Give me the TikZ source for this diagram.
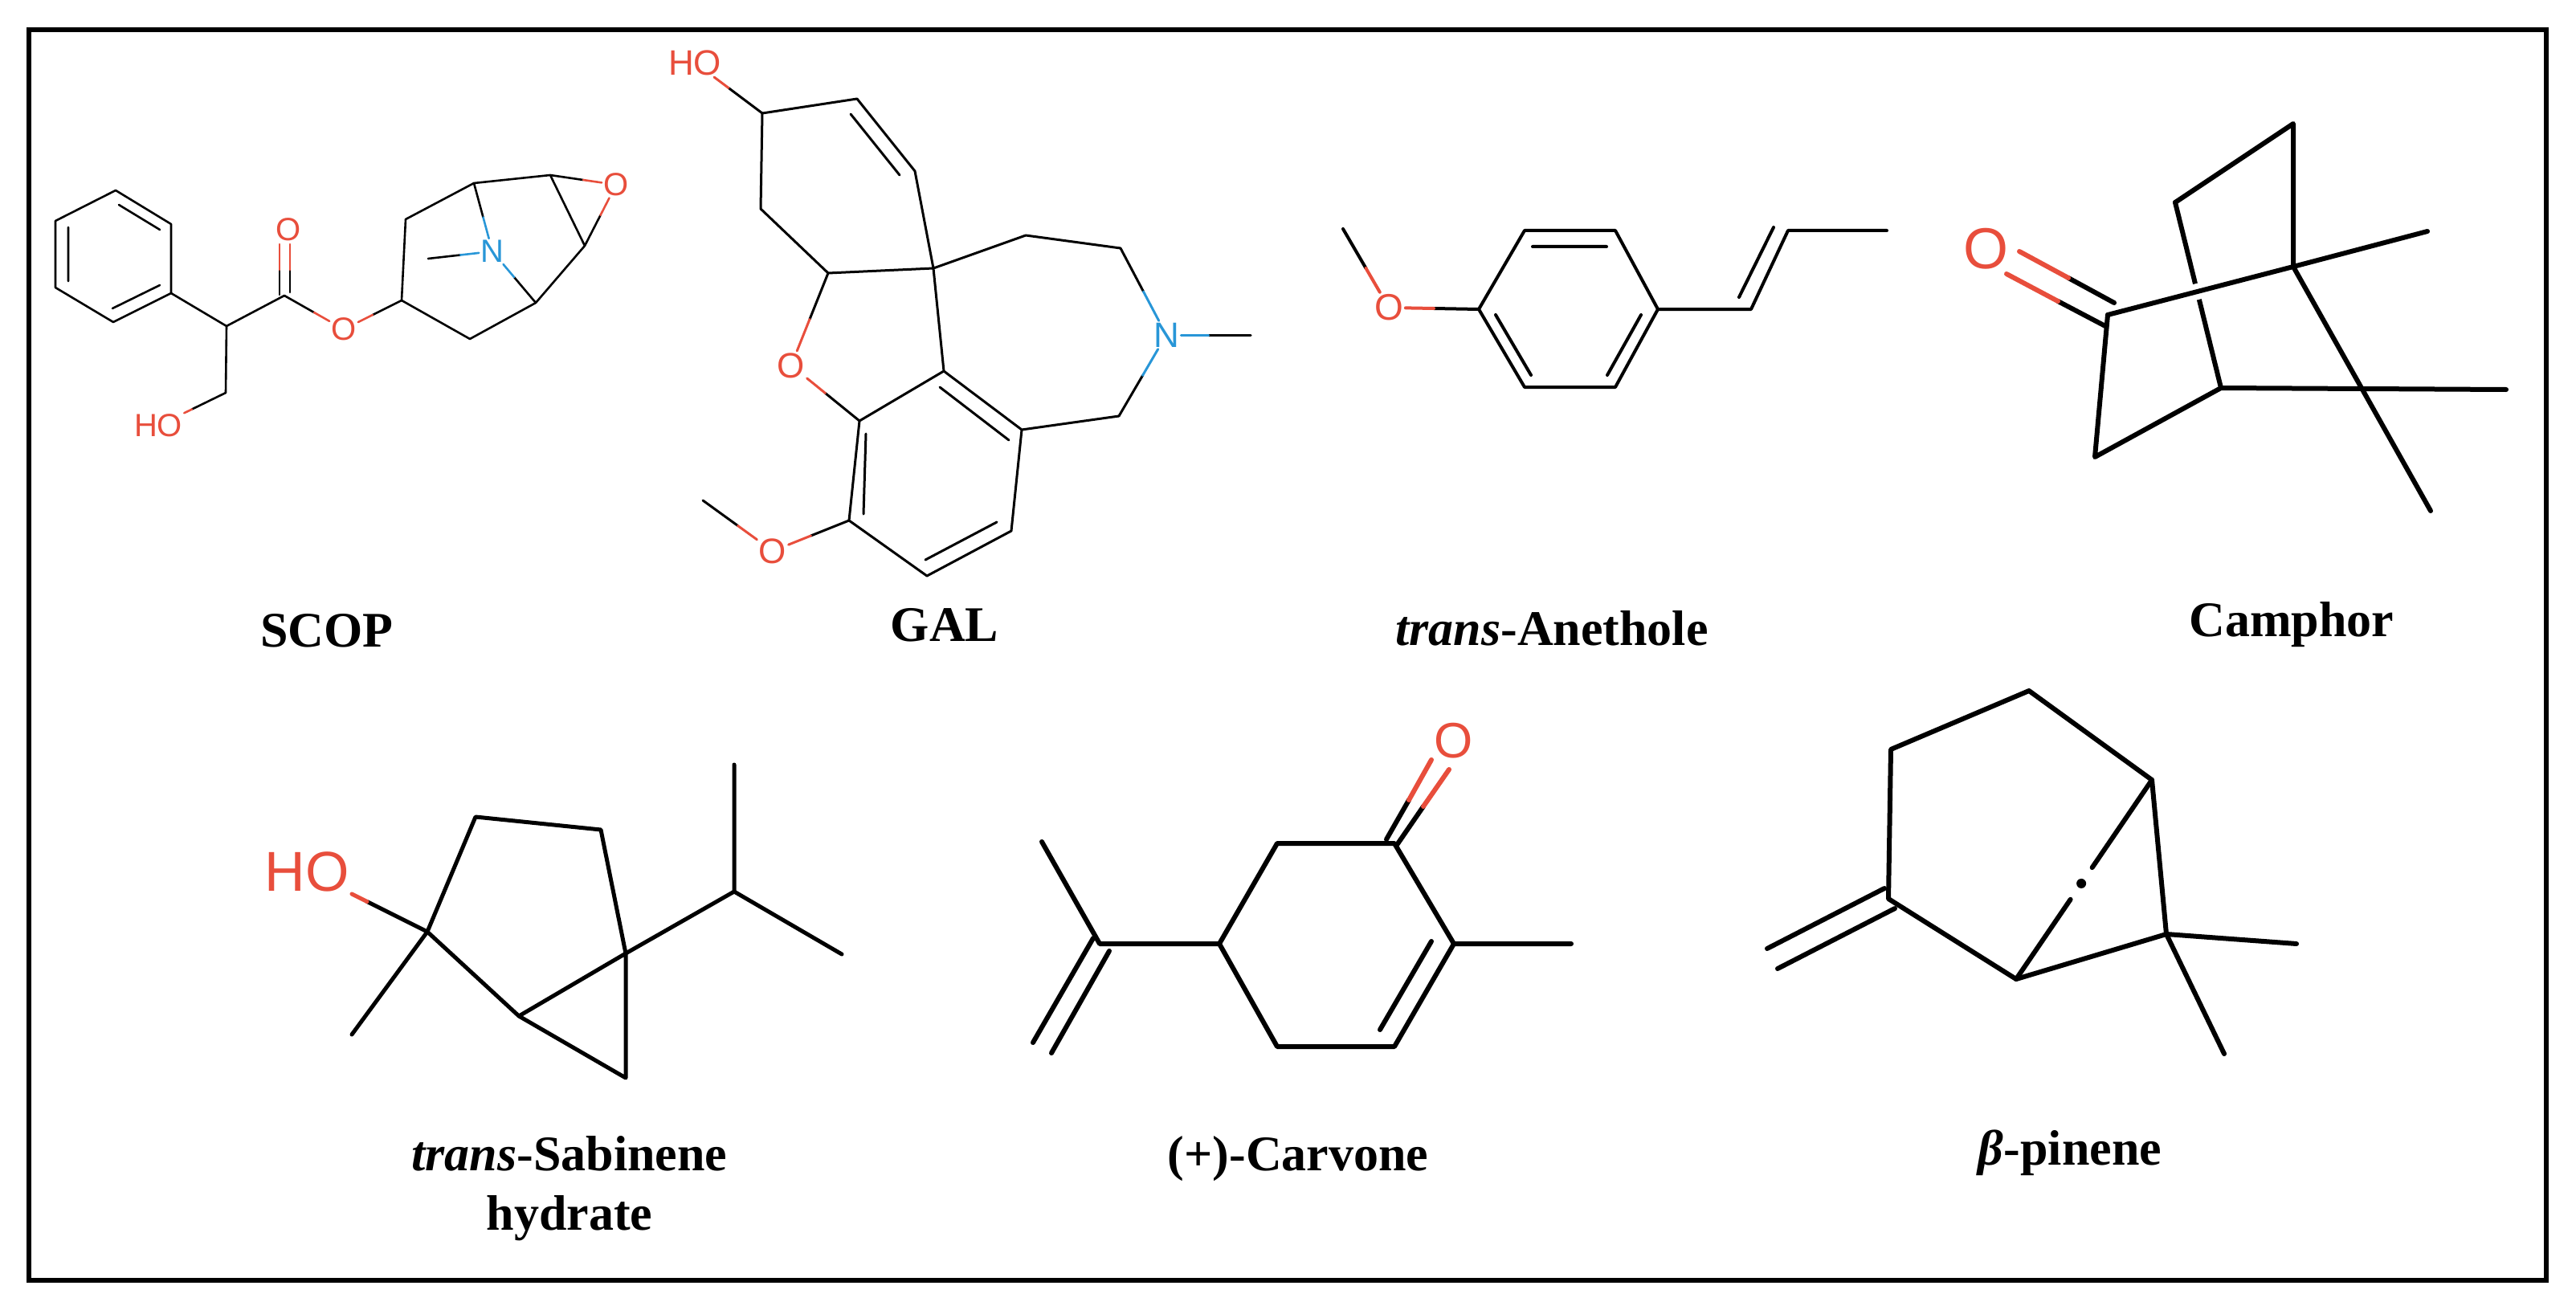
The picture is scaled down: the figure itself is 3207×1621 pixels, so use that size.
\documentclass[tikz,border=0pt]{standalone}
\usepackage{fontspec}
\setmainfont{Liberation Serif}
\newfontfamily\atomfont{Liberation Sans}
\usetikzlibrary{calc}
\definecolor{ored}{RGB}{232,78,60}
\definecolor{nblue}{RGB}{40,150,215}
\tikzset{
  lab/.style={anchor=base,font=\fontsize{62}{74}\selectfont\bfseries},
  atom/.style={inner sep=1pt,font=\atomfont\fontsize{#1}{#1}\selectfont},
  oatom/.style={atom=#1,text=ored},
  natom/.style={atom=#1,text=nblue},
  bd/.style={line width=#1,line cap=round,line join=round},
}
\newcommand{\hb}[4]{\draw[bd=#4] (#1) -- ($(#1)!.5!(#2)$); \draw[bd=#4,#3] ($(#1)!.5!(#2)$) -- (#2);}
\begin{document}
\begin{tikzpicture}[x=1pt,y=-1pt]
\useasboundingbox (0,0) rectangle (3207,1621);
\draw[line width=6pt] (36,37) rectangle (3170,1594);

% ---------- SCOP ----------
\begin{scope}[every path/.style={bd=2.6pt}]
\foreach \n/\p in {b1/{144,237},b2/{213,279},b3/{213,365},b4/{141,401},b5/{69,358},b6/{69,275},
  ca/{282,406},cb/{281,489},cc/{354,368},c3/{500,374},r1/{505,273},r2/{590,228},r3/{585,422},r4/{667,377},r5/{685,218},r6/{728,306},sme/{533,322}}
  {\coordinate (\n) at (\p);}
\node[oatom=40] (sHO) at (197,530) {HO};
\node[oatom=40] (sO1) at (359,286) {O};
\node[oatom=40] (sO2) at (428,410) {O};
\node[oatom=40] (sO3) at (767,230) {O};
\node[natom=40] (sN) at (613,313) {N};
\draw (b1)--(b2)--(b3)--(b4)--(b5)--(b6)--cycle;
\draw (85,283)--(85,350) (148,255)--(199,286) (140,384)--(199,355);
\draw (b3)--(ca)--(cb) (ca)--(cc) (c3)--(r1)--(r2) (c3)--(r3)--(r4) (r2)--(r5)--(r6)--(r4);
\hb{cb}{sHO}{ored}{2.6pt}
\hb{cc}{sO2}{ored}{2.6pt}
\hb{c3}{sO2}{ored}{2.6pt}
\hb{r5}{sO3}{ored}{2.6pt}
\hb{r6}{sO3}{ored}{2.6pt}
\hb{r2}{sN}{nblue}{2.6pt}
\hb{r4}{sN}{nblue}{2.6pt}
\hb{sme}{sN}{nblue}{2.6pt}
\draw (348,367)--(348,336) (361,364)--(361,336);
\draw[ored] (348,336)--(348,304) (361,336)--(361,304);
\end{scope}

% ---------- GAL ----------
\begin{scope}[every path/.style={bd=3pt}]
\foreach \n/\p in {g1/{949,141},g2/{1067,123},g3/{1139,213},g4/{947,260},g5/{1031,340},sp/{1162,334},
  a1/{1070,524},a2/{1175,462},a3/{1272,535},a4/{1259,661},a5/{1154,717},a6/{1057,648},gme/{875,623},
  z1/{1277,293},z2/{1395,309},z3/{1393,518},gNm/{1557,417}}
  {\coordinate (\n) at (\p);}
\node[oatom=44] (gHO) at (865,78) {HO};
\node[oatom=44] (gO) at (985,455) {O};
\node[oatom=44] (gO2) at (962,686) {O};
\node[natom=44] (gN) at (1452,417) {N};
\draw (g1)--(g2)--(g3)--(sp) (g1)--(g4)--(g5)--(sp) (a1)--(a2)--(sp) (a2)--(a3)--(a4)--(a5)--(a6)--(a1)
      (sp)--(z1)--(z2) (z3)--(a3);
\draw (1059,142)--(1120,218) (1170,482)--(1256,548) (1152,697)--(1241,650) (1078,540)--(1075,640);
\hb{g1}{gHO}{ored}{3pt}
\hb{g5}{gO}{ored}{3pt}
\hb{a1}{gO}{ored}{3pt}
\hb{a6}{gO2}{ored}{3pt}
\hb{gme}{gO2}{ored}{3pt}
\hb{z2}{gN}{nblue}{3pt}
\hb{z3}{gN}{nblue}{3pt}
\hb{gNm}{gN}{nblue}{3pt}
\end{scope}

% ---------- trans-Anethole ----------
\begin{scope}[every path/.style={bd=4pt}]
\foreach \n/\p in {ame/{1672,285},al/{1841,385},atl/{1898,287},atr/{2011,287},ar/{2064,385},abr/{2011,482},abl/{1898,482},
  p1/{2180,385},p2/{2226,287},p3/{2349,287}}
  {\coordinate (\n) at (\p);}
\node[oatom=46] (aO) at (1729,383) {O};
\draw (al)--(atl)--(atr)--(ar)--(abr)--(abl)--cycle (ar)--(p1)--(p2)--(p3);
\draw (1908,307)--(2000,307) (1862,392)--(1906,467) (2043,392)--(2001,467) (2165,370)--(2208,283);
\hb{ame}{aO}{ored}{4pt}
\hb{al}{aO}{ored}{4pt}
\end{scope}

% ---------- Camphor ----------
\begin{scope}[every path/.style={bd=6pt}]
\foreach \n/\p in {c2/{2624,392},ctop/{2855,154},cbr/{2708,252},c1/{2855,332},m1/{3022,288},c3x/{2608,569},c4/{2765,483},m2/{3120,485},m3/{3026,636}}
  {\coordinate (\n) at (\p);}
\node[oatom=72] (cO) at (2472,310) {O};
\draw (c4)--(cbr);
\draw[line width=20pt,white,line cap=butt] ($(c2)!.4!(c1)$)--($(c2)!.6!(c1)$);
\draw (c2)--(c1);
\draw (c2)--(c3x)--(c4) (cbr)--(ctop)--(c1)--(m1) (c1)--(m3) (c4)--(m2);
\draw (2632,377)--(2575,346) (2621,406)--(2562,375);
\draw[ored] (2575,346)--(2514,313) (2562,375)--(2498,341);
\end{scope}

% ---------- trans-Sabinene hydrate ----------
\begin{scope}[every path/.style={bd=5pt}]
\foreach \n/\p in {s1/{532,1160},sm/{438,1288},s2/{592,1017},s3/{748,1033},s4/{779,1187},s5/{646,1265},s6/{779,1342},
  i1/{914,1110},i2/{914,952},i3/{1048,1188}}
  {\coordinate (\n) at (\p);}
\node[oatom=70] (sbHO) at (382,1085) {HO};
\draw (s1)--(sm) (s1)--(s2)--(s3)--(s4) (s1)--(s5)--(s4) (s5)--(s6)--(s4) (s4)--(i1)--(i2) (i1)--(i3);
\hb{s1}{sbHO}{ored}{5pt}
\end{scope}

% ---------- (+)-Carvone ----------
\begin{scope}[every path/.style={bd=6pt}]
\foreach \n/\p in {cm/{1297,1048},cv/{1369,1175},k1/{1518,1175},k2/{1590,1050},k3/{1736,1050},k4/{1810,1175},k5/{1736,1303},k6/{1590,1303},km/{1956,1175}}
  {\coordinate (\n) at (\p);}
\node[oatom=62] (kO) at (1810,922) {O};
\draw (cm)--(cv)--(k1)--(k2)--(k3)--(k4)--(k5)--(k6)--(k1) (k4)--(km);
\draw (1361,1168)--(1286,1298) (1381,1184)--(1309,1311) (1782,1172)--(1718,1282);
\draw (1739,1052)--(1772,1004) (1726,1045)--(1754,996);
\draw[ored] (1772,1004)--(1804,958) (1754,996)--(1782,946);
\end{scope}

% ---------- beta-pinene ----------
\begin{scope}[every path/.style={bd=6pt}]
\foreach \n/\p in {q1/{2526,860},q2/{2354,933},q3/{2351,1119},q4/{2510,1219},q5/{2679,971},q6/{2697,1163},qm1/{2859,1175},qm2/{2769,1312}}
  {\coordinate (\n) at (\p);}
\draw (q1)--(q2)--(q3)--(q4)--(q6)--(q5)--(q1) (q6)--(qm1) (q6)--(qm2);
\draw (q5)--($(q5)!.44!(q4)$) ($(q5)!.6!(q4)$)--(q4);
\fill ($(q5)!.52!(q4)$) circle (6);
\draw (2346,1106)--(2200,1181) (2359,1131)--(2213,1206);
\end{scope}

% ---------- labels ----------
\node[lab] (tSCOP) at (407,805) {SCOP};
\node[lab] (tGAL) at (1176,798) {GAL};
\node[lab] (tANE) at (1932,803) {\textit{trans}-Anethole};
\node[lab] (tCAM) at (2853,792) {Camphor};
\node[lab] (tSAB1) at (709,1457) {\textit{trans}-Sabinene};
\node[lab] (tSAB2) at (709,1531) {hydrate};
\node[lab] (tCAR) at (1616,1457) {(+)-Carvone};
\node[lab] (tPIN) at (2577,1450) {\textit{β}-pinene};
\end{tikzpicture}
\end{document}
